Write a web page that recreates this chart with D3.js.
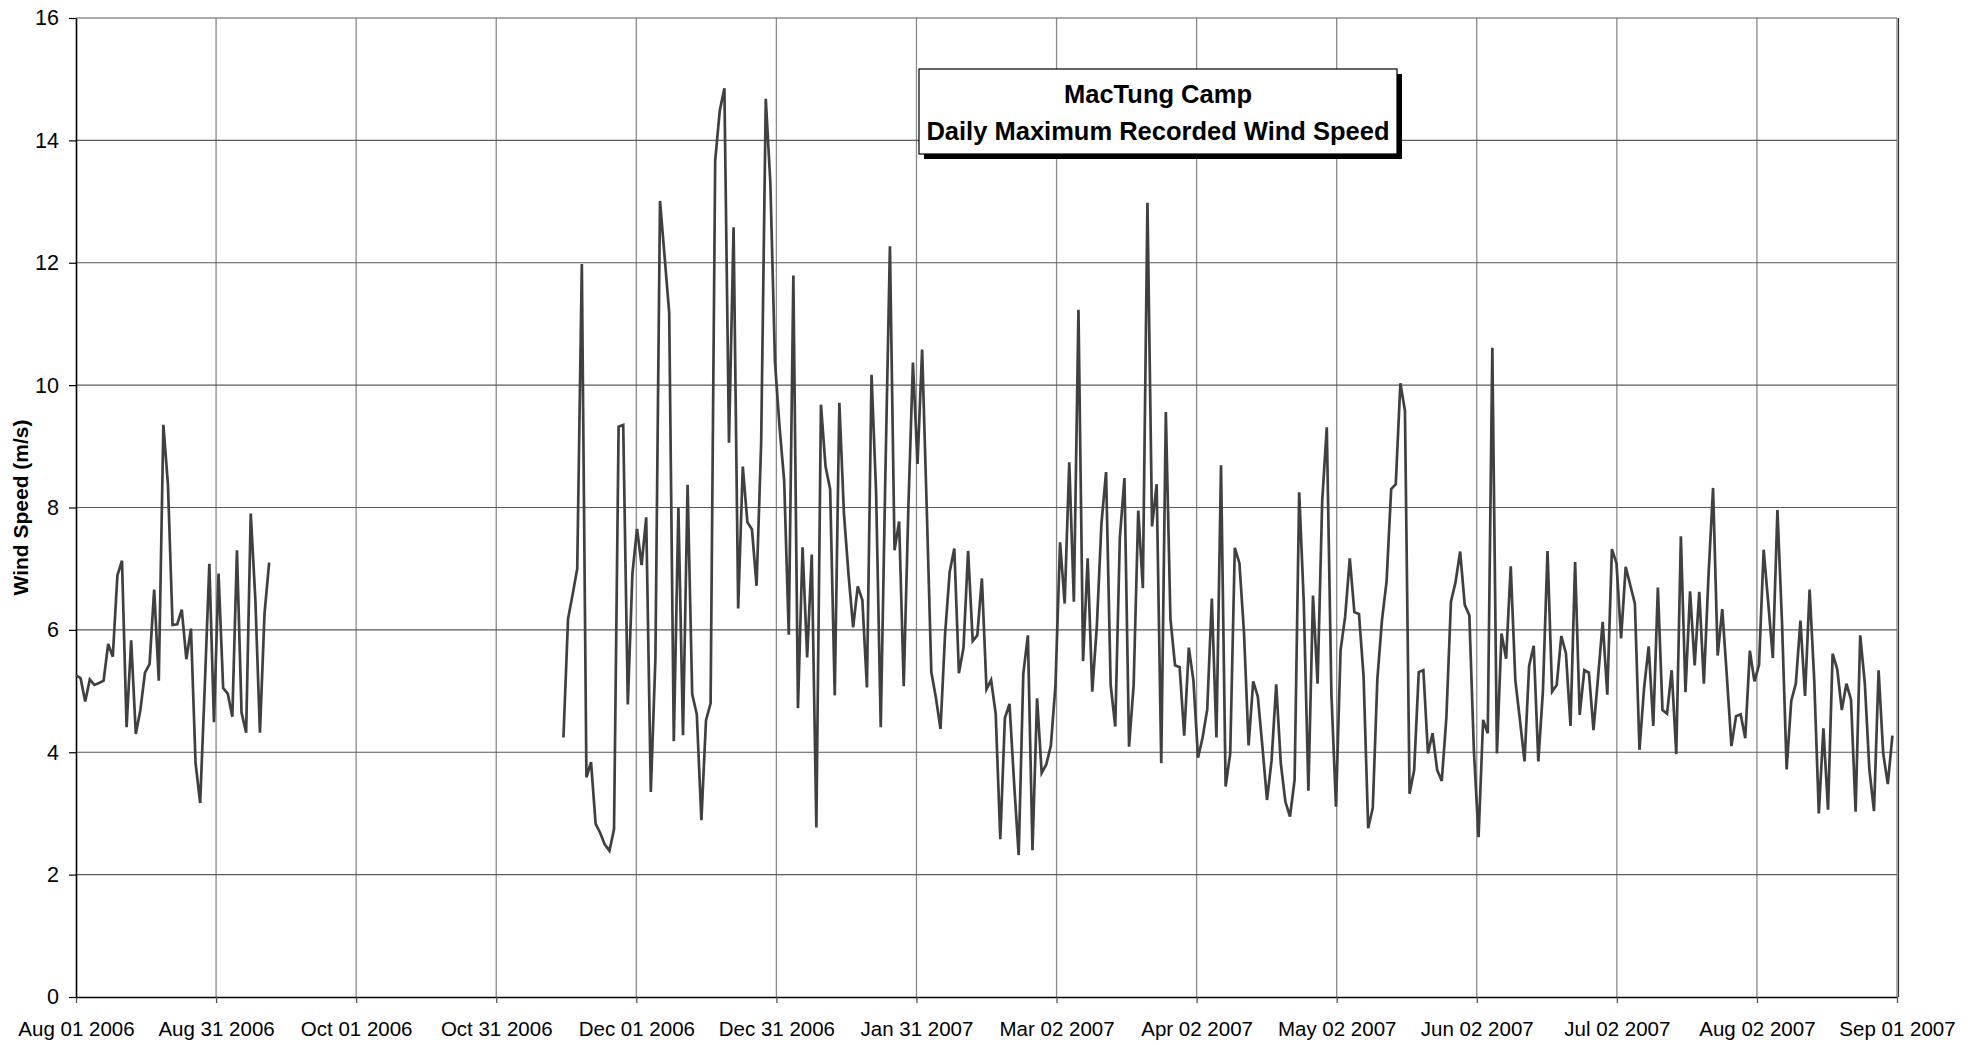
<!DOCTYPE html>
<html>
<head>
<meta charset="utf-8">
<script src="https://cdn.jsdelivr.net/npm/d3@7"></script>
<style>
  body { margin: 0; background: #fff; }
  svg text { font-family: "Liberation Sans", Arial, sans-serif; fill: #000; }
</style>
</head>
<body>
<svg id="chart" width="1977" height="1045"></svg>
<script>
// daily maximum wind speed (m/s), two recording periods
var seg1Start = "2006-08-01";
var seg1Values = [5.26, 5.21, 4.83, 5.19, 5.10, 5.13, 5.17, 5.77, 5.56, 6.89,
  7.13, 4.41, 5.83, 4.30, 4.69, 5.30, 5.44, 6.66, 5.17, 9.35,
  8.37, 6.08, 6.09, 6.33, 5.52, 6.02, 3.82, 3.17, 5.07, 7.08,
  4.49, 6.92, 5.05, 4.96, 4.58, 7.30, 4.65, 4.32, 7.90, 6.50,
  4.32, 6.27, 7.10];

var seg2Start = "2006-11-15";
var seg2Values = [4.24, 6.18, 6.58, 7.00, 11.98, 3.59, 3.84, 2.83, 2.68, 2.49,
  2.39, 2.74, 9.32, 9.35, 4.78, 6.92, 7.65, 7.06, 7.84, 3.35,
  5.53, 13.01, 12.10, 11.18, 4.18, 8.00, 4.28, 8.37, 4.95, 4.62,
  2.89, 4.52, 4.80, 13.67, 14.49, 14.85, 9.06, 12.58, 6.35, 8.67,
  7.76, 7.64, 6.72, 9.06, 14.68, 13.30, 10.38, 9.31, 8.44, 5.92,
  11.79, 4.72, 7.35, 5.55, 7.23, 2.77, 9.68, 8.67, 8.30, 4.93,
  9.71, 7.90, 6.90, 6.04, 6.71, 6.49, 5.06, 10.17, 8.23, 4.41,
  8.50, 12.27, 7.30, 7.77, 5.08, 7.97, 10.37, 8.71, 10.58, 8.00,
  5.31, 4.89, 4.38, 5.94, 6.95, 7.33, 5.29, 5.71, 7.29, 5.82,
  5.91, 6.84, 5.03, 5.18, 4.63, 2.58, 4.56, 4.79, 3.50, 2.32,
  5.28, 5.91, 2.40, 4.88, 3.66, 3.80, 4.11, 5.10, 7.43, 6.43,
  8.74, 6.46, 11.23, 5.49, 7.17, 4.99, 6.07, 7.74, 8.58, 5.10,
  4.42, 7.51, 8.48, 4.09, 5.10, 7.95, 6.68, 12.98, 7.69, 8.38,
  3.82, 9.56, 6.18, 5.42, 5.39, 4.27, 5.71, 5.17, 3.91, 4.24,
  4.70, 6.51, 4.24, 8.69, 3.44, 3.98, 7.34, 7.09, 5.95, 4.11,
  5.16, 4.91, 4.09, 3.22, 3.87, 5.11, 3.82, 3.19, 2.95, 3.55,
  8.25, 6.44, 3.37, 6.56, 5.12, 8.10, 9.31, 4.96, 3.11, 5.67,
  6.22, 7.17, 6.29, 6.26, 5.24, 2.76, 3.09, 5.20, 6.16, 6.79,
  8.30, 8.38, 10.03, 9.58, 3.32, 3.71, 5.31, 5.34, 3.98, 4.31,
  3.71, 3.53, 4.56, 6.46, 6.78, 7.28, 6.41, 6.24, 4.01, 2.61,
  4.53, 4.31, 10.61, 3.98, 5.94, 5.53, 7.04, 5.18, 4.53, 3.85,
  5.41, 5.74, 3.85, 5.00, 7.29, 4.99, 5.10, 5.90, 5.62, 4.43,
  7.11, 4.61, 5.34, 5.30, 4.36, 5.23, 6.13, 4.94, 7.32, 7.09,
  5.86, 7.03, 6.73, 6.43, 4.04, 5.05, 5.73, 4.43, 6.69, 4.69,
  4.63, 5.34, 3.97, 7.53, 4.98, 6.63, 5.42, 6.62, 5.12, 6.87,
  8.32, 5.58, 6.34, 5.24, 4.10, 4.59, 4.62, 4.23, 5.66, 5.16,
  5.43, 7.31, 6.44, 5.54, 7.96, 6.11, 3.72, 4.84, 5.12, 6.15,
  4.92, 6.66, 5.18, 3.00, 4.39, 3.06, 5.61, 5.36, 4.69, 5.12,
  4.86, 3.03, 5.91, 5.13, 3.71, 3.04, 5.34, 3.98, 3.48, 4.27];

var axisStart = "2006-08-01";
var axisEnd = "2007-09-01";
var yTicks = [0, 2, 4, 6, 8, 10, 12, 14, 16];
var xTickLabels = ["Aug 01 2006", "Aug 31 2006", "Oct 01 2006", "Oct 31 2006",
  "Dec 01 2006", "Dec 31 2006", "Jan 31 2007", "Mar 02 2007", "Apr 02 2007",
  "May 02 2007", "Jun 02 2007", "Jul 02 2007", "Aug 02 2007", "Sep 01 2007"];
var titleLines = ["MacTung Camp", "Daily Maximum Recorded Wind Speed"];
var yTitle = "Wind Speed (m/s)";

var DAY = 86400000;
var parse = d3.utcParse("%Y-%m-%d");

function toSeries(start, values) {
  var t0 = parse(start).getTime();
  return values.map(function(v, i) { return {date: new Date(t0 + i * DAY), value: v}; });
}
var series = [toSeries(seg1Start, seg1Values), toSeries(seg2Start, seg2Values)];

var margin = {top: 18, right: 80, bottom: 48, left: 76};
var width = 1977 - margin.left - margin.right;
var height = 1045 - margin.top - margin.bottom;

var t0 = parse(axisStart), t1 = parse(axisEnd);
var x = d3.scaleUtc().domain([t0, t1]).range([0, width]);
var y = d3.scaleLinear().domain([0, 16]).range([height, 0]);

// excel spreads the major units evenly over the axis
var nInt = xTickLabels.length - 1;
var tickDates = xTickLabels.map(function(d, i) {
  return new Date(t0.getTime() + i * (t1 - t0) / nInt);
});

var svg = d3.select("#chart");
var g = svg.append("g")
    .attr("transform", "translate(" + margin.left + "," + margin.top + ")");

// gridlines
g.selectAll(".vgrid")
    .data(tickDates.slice(1))
  .enter().append("line")
    .attr("x1", function(d) { return x(d); })
    .attr("x2", function(d) { return x(d); })
    .attr("y1", 0)
    .attr("y2", height)
    .style("stroke", "#8a8a8a")
    .style("stroke-width", 1.3);

g.selectAll(".hgrid")
    .data(yTicks.slice(1))
  .enter().append("line")
    .attr("x1", 0)
    .attr("x2", width)
    .attr("y1", function(d) { return y(d); })
    .attr("y2", function(d) { return y(d); })
    .style("stroke", "#5a5a5a")
    .style("stroke-width", 1.2);

// right border
g.append("line")
    .attr("x1", width + 1.5).attr("x2", width + 1.5)
    .attr("y1", 0).attr("y2", height)
    .style("stroke", "#333")
    .style("stroke-width", 1.2);

// axes
var xAxis = g.append("g")
    .attr("transform", "translate(0," + height + ")")
    .call(d3.axisBottom(x)
      .tickValues(tickDates)
      .tickFormat(function(d, i) { return xTickLabels[i]; })
      .tickSizeInner(6)
      .tickSizeOuter(0)
      .tickPadding(18));
xAxis.select(".domain").style("stroke", "#000").style("stroke-width", 1.6);
xAxis.selectAll(".tick line").style("stroke", "#555").style("stroke-width", 1.3);
xAxis.selectAll("text")
    .style("font-size", "20.5px")
    .style("font-family", "'Liberation Sans', Arial, sans-serif")
    .attr("fill", "#000");

var yAxis = g.append("g")
    .call(d3.axisLeft(y)
      .tickValues(yTicks)
      .tickSizeInner(7)
      .tickSizeOuter(0)
      .tickPadding(10));
yAxis.select(".domain").style("stroke", "#000").style("stroke-width", 1.6);
yAxis.selectAll(".tick line").style("stroke", "#000").style("stroke-width", 1.2);
yAxis.selectAll("text")
    .style("font-size", "21.5px")
    .style("font-family", "'Liberation Sans', Arial, sans-serif")
    .attr("fill", "#000");

// data line
var line = d3.line()
    .x(function(d) { return x(d.date); })
    .y(function(d) { return y(d.value); });

g.selectAll(".series")
    .data(series)
  .enter().append("path")
    .attr("d", line)
    .style("fill", "none")
    .style("stroke", "#404040")
    .style("stroke-width", 2.7)
    .style("stroke-linejoin", "miter")
    .style("stroke-miterlimit", 4);

// y axis title
svg.append("text")
    .attr("transform", "translate(28," + (margin.top + height / 2) + ") rotate(-90)")
    .attr("text-anchor", "middle")
    .style("font-size", "21px")
    .style("font-weight", "bold")
    .text(yTitle);

// title box with shadow
var box = {x: 919, y: 69, w: 478, h: 85};
svg.append("rect")
    .attr("x", box.x + 5).attr("y", box.y + 5)
    .attr("width", box.w).attr("height", box.h)
    .style("fill", "#000");
svg.append("rect")
    .attr("x", box.x).attr("y", box.y)
    .attr("width", box.w).attr("height", box.h)
    .style("fill", "#fff")
    .style("stroke", "#000")
    .style("stroke-width", 1.2);
svg.selectAll(".title")
    .data(titleLines)
  .enter().append("text")
    .attr("x", box.x + box.w / 2)
    .attr("y", function(d, i) { return box.y + 34 + i * 37; })
    .attr("text-anchor", "middle")
    .style("font-size", "25.5px")
    .style("font-weight", "bold")
    .text(function(d) { return d; });
</script>
</body>
</html>
